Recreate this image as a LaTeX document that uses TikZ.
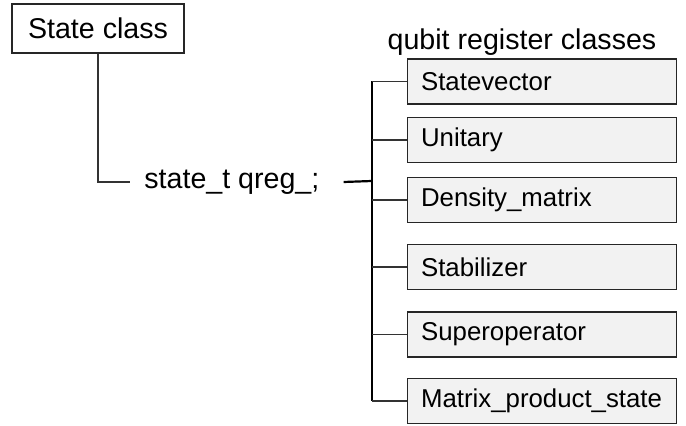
\documentclass[tikz,border=0pt]{standalone}
\usepackage{fontspec}
\setmainfont{Liberation Sans}
\begin{document}
\begin{tikzpicture}[x=0.5pt,y=-0.5pt,
  labelfont/.style={font=\fontsize{14.3}{16}\selectfont},
  classbox/.style={draw=black!85, line width=0.6pt, fill=black!5, minimum width=134.5pt,
    minimum height=22.5pt, text width=121pt, align=left, inner xsep=6.5pt, inner ysep=0pt,
    font=\fontsize{12.9}{15}\selectfont, anchor=west},
  link/.style={draw=black!80, line width=0.6pt},
  heavy/.style={draw=black, line width=1.1pt}]
\useasboundingbox[fill=white] (0,0) rectangle (686,426);
\node[draw=black!85, line width=0.6pt, minimum width=86pt, minimum height=24.5pt, inner sep=0pt,
  labelfont] (sc) at (98,28.5) {State class};
\node[labelfont, anchor=west, inner xsep=7pt, inner ysep=0pt] (st) at (130,182) {state\_t qreg\_;};
\node[labelfont] (title) at (522,42) {qubit register classes};
\coordinate (bus) at (372,181);
\node[classbox] (b1) at (407,81.5) {Statevector};
\node[classbox] (b2) at (407,140) {Unitary};
\node[classbox] (b3) at (407,200) {Density\_matrix};
\node[classbox] (b4) at (407,267) {Stabilizer};
\node[classbox] (b5) at (407,334.5) {Superoperator};
\node[classbox] (b6) at (407,401) {Matrix\_product\_state};
\draw[link] (sc.south) |- (st.west);
\draw[heavy] ([xshift=5pt]st.east) -- (bus);
\draw[heavy, line width=0.8pt] (bus |- b1.west) -- (bus |- b6.west);
\foreach \b in {b1,b2,b3,b4,b5,b6}
  \draw[link] (bus |- \b.west) -- (\b.west);
\end{tikzpicture}
\end{document}
